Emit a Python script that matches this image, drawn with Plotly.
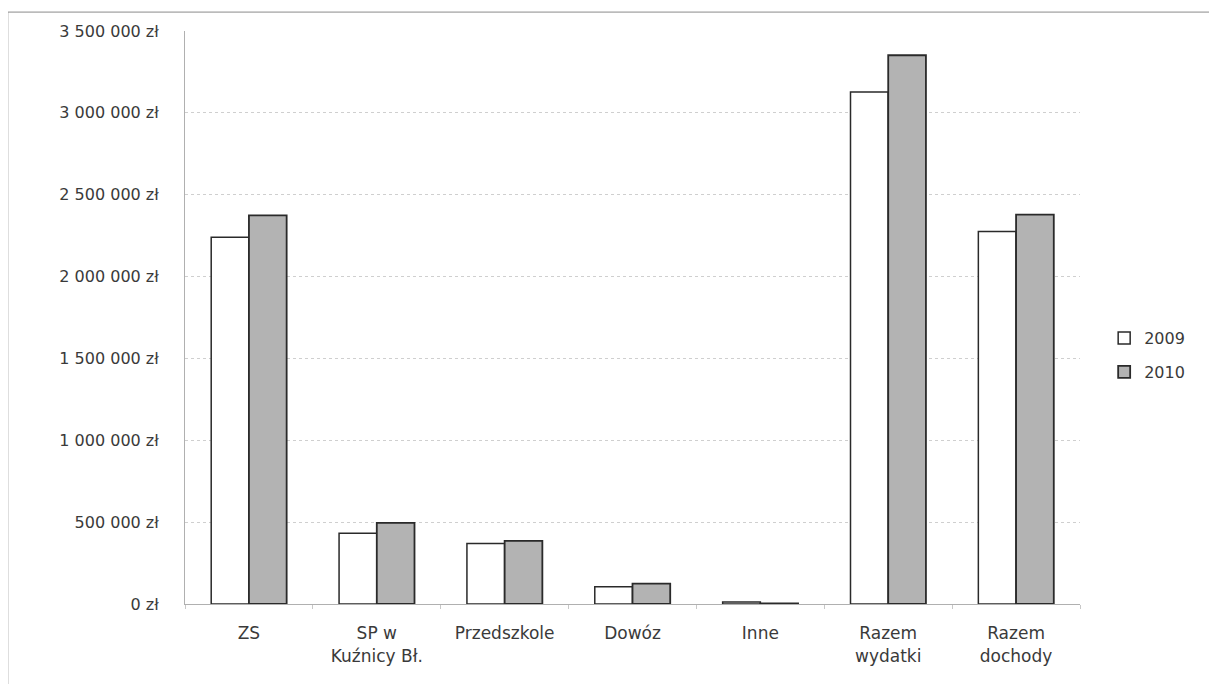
import plotly.graph_objects as go

categories = ["ZS", "SP w<br>Kuźnicy Bł.", "Przedszkole", "Dowóz", "Inne", "Razem<br>wydatki", "Razem<br>dochody"]
values_2009 = [2240000, 432000, 370000, 105000, 12000, 3128000, 2276000]
values_2010 = [2374000, 495000, 385000, 125000, 3000, 3352000, 2378000]
tick_values = [0, 500000, 1000000, 1500000, 2000000, 2500000, 3000000, 3500000]
tick_labels = ["0 zł", "500 000 zł", "1 000 000 zł", "1 500 000 zł", "2 000 000 zł",
               "2 500 000 zł", "3 000 000 zł", "3 500 000 zł"]

FONT = "DejaVu Sans"
TXT = "#3a3a3a"

fig = go.Figure()
fig.add_trace(go.Bar(
    name="2009", x=categories, y=values_2009, legend="legend",
    marker=dict(color="#ffffff", line=dict(color="#2a2a2a", width=1.5)),
))
fig.add_trace(go.Bar(
    name="2010", x=categories, y=values_2010, legend="legend2",
    marker=dict(color="#b3b3b3", line=dict(color="#2a2a2a", width=1.8)),
))

leg_common = dict(xanchor="left", yanchor="middle", itemwidth=30,
                  font=dict(family=FONT, size=16, color=TXT),
                  bgcolor="rgba(0,0,0,0)")
fig.update_layout(
    width=1217, height=684,
    margin=dict(l=177, r=145, t=23, b=88),
    paper_bgcolor="white", plot_bgcolor="white",
    barmode="group", bargap=0.41, bargroupgap=0,
    font=dict(family=FONT, size=16, color=TXT),
    legend=dict(x=1.027, y=0.464, **leg_common),
    legend2=dict(x=1.027, y=0.405, **leg_common),
    showlegend=True,
)
fig.update_yaxes(
    range=[0, 3500000], tickvals=tick_values, ticktext=tick_labels,
    showgrid=True, gridcolor="#cfcfcf", griddash="dot", gridwidth=1,
    showline=True, linecolor="#b0b0b0", linewidth=1,
    zeroline=False, ticks="", ticklabelstandoff=22,
    tickfont=dict(family=FONT, size=16, color=TXT),
)
fig.update_xaxes(
    showline=True, linecolor="#b0b0b0", linewidth=1,
    ticks="outside", tickson="boundaries", ticklen=4, tickcolor="#c8c8c8",
    tickfont=dict(family=FONT, size=17, color=TXT), ticklabelstandoff=14,
)
fig.add_shape(type="rect", xref="paper", yref="paper",
              x0=-0.198, x1=1.153, y0=-0.16, y1=1.033,
              line=dict(color="#8a8a8a", width=1), fillcolor="rgba(0,0,0,0)", layer="below")

fig.write_html("out.html")
